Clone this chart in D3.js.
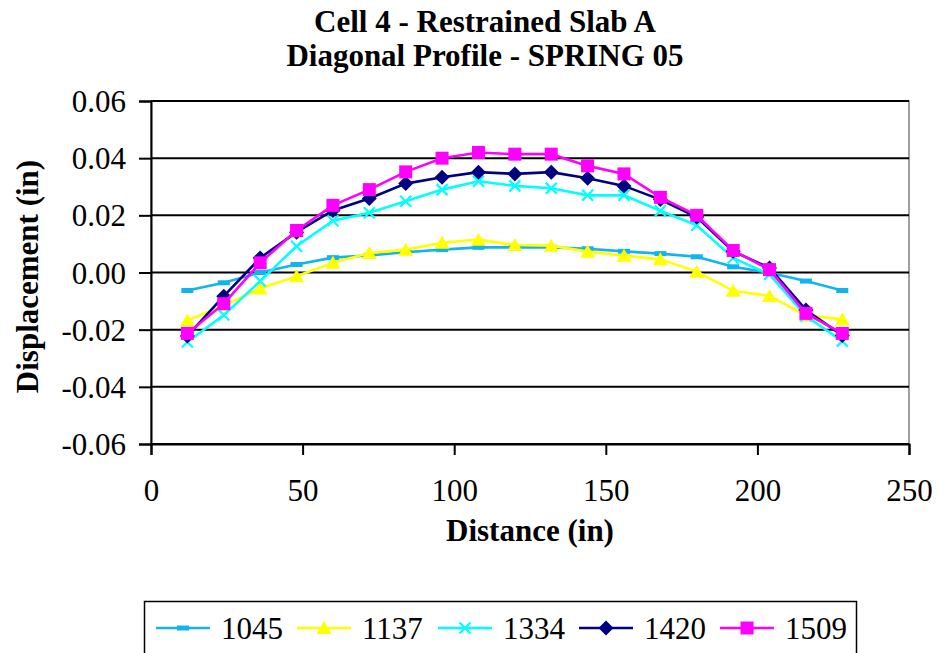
<!DOCTYPE html>
<html>
<head>
<meta charset="utf-8">
<script src="https://cdn.jsdelivr.net/npm/d3@7"></script>
<style>
  html, body { margin: 0; padding: 0; background: #fff; }
  svg { display: block; }
  text { font-family: "Liberation Serif", "Times New Roman", serif; fill: #000; }
</style>
</head>
<body>
<svg id="chart" width="938" height="653"></svg>
<script>
// Measurement positions along the diagonal (in)
const distance = [12, 24, 36, 48, 60, 72, 84, 96, 108, 120, 132, 144, 156, 168, 180, 192, 204, 216, 228];

// Displacement readings (in) for each survey time
const s1045 = [-0.0063, -0.0036, 0.0000, 0.0028, 0.0052, 0.0060, 0.0071, 0.0080, 0.0088, 0.0088, 0.0088, 0.0083, 0.0074, 0.0066, 0.0055, 0.0020, -0.0001, -0.0030, -0.0063];
const s1137 = [-0.0168, -0.0115, -0.0056, -0.0013, 0.0034, 0.0068, 0.0080, 0.0104, 0.0115, 0.0096, 0.0094, 0.0073, 0.0059, 0.0046, 0.0003, -0.0064, -0.0082, -0.0150, -0.0164];
const s1334 = [-0.0243, -0.0149, -0.0030, 0.0092, 0.0181, 0.0209, 0.0249, 0.0290, 0.0319, 0.0303, 0.0295, 0.0270, 0.0270, 0.0216, 0.0165, 0.0051, -0.0007, -0.0152, -0.0240];
const s1420 = [-0.0222, -0.0083, 0.0051, 0.0141, 0.0217, 0.0259, 0.0311, 0.0333, 0.0351, 0.0345, 0.0351, 0.0330, 0.0303, 0.0255, 0.0194, 0.0074, 0.0016, -0.0131, -0.0220];
const s1509 = [-0.0213, -0.0109, 0.0034, 0.0147, 0.0235, 0.0290, 0.0352, 0.0400, 0.0420, 0.0414, 0.0414, 0.0373, 0.0345, 0.0263, 0.0200, 0.0077, 0.0010, -0.0143, -0.0213];

const seriesNames = ["1045", "1137", "1334", "1420", "1509"];
const seriesValues = [s1045, s1137, s1334, s1420, s1509];
const seriesColors = ["#13b4ee", "#ffff00", "#00ffff", "#000080", "#ff00ff"];
const seriesMarkers = ["dash", "triangle", "cross", "diamond", "square"];

const xTicks = [0, 50, 100, 150, 200, 250];
const yTicks = [-0.06, -0.04, -0.02, 0.00, 0.02, 0.04, 0.06];

const titleLines = ["Cell 4 - Restrained Slab A", "Diagonal Profile - SPRING 05"];
const xTitle = "Distance (in)";
const yTitle = "Displacement (in)";

const svg = d3.select("#chart");
const plot = { left: 151, right: 909, top: 101, bottom: 444 };

const x = d3.scaleLinear().domain([0, 250]).range([plot.left, plot.right]);
const y = d3.scaleLinear().domain([-0.06, 0.06]).range([plot.bottom, plot.top]);

// Plot area frame
svg.append("rect")
  .attr("x", plot.left).attr("y", plot.top)
  .attr("width", plot.right - plot.left).attr("height", plot.bottom - plot.top)
  .attr("fill", "#fff").attr("stroke", "#808080").attr("stroke-width", 1.5);

// Horizontal gridlines
svg.append("g").selectAll("line").data(yTicks).join("line")
  .attr("x1", plot.left).attr("x2", plot.right)
  .attr("y1", d => y(d)).attr("y2", d => y(d))
  .attr("stroke", "#000").attr("stroke-width", 2);

// Axes
const yAxis = svg.append("g")
  .attr("transform", `translate(${plot.left},0)`)
  .call(d3.axisLeft(y).tickValues(yTicks).tickSize(12).tickPadding(13)
    .tickFormat(d => d.toFixed(2)));
const xAxis = svg.append("g")
  .attr("transform", `translate(0,${plot.bottom})`)
  .call(d3.axisBottom(x).tickValues(xTicks).tickSize(11).tickPadding(24)
    .tickFormat(d3.format("d")));

[yAxis, xAxis].forEach(g => {
  g.select(".domain").attr("stroke", "#000").attr("stroke-width", 2);
  g.selectAll(".tick line").attr("stroke", "#000").attr("stroke-width", 2);
  g.selectAll(".tick text")
    .attr("font-family", "'Liberation Serif', 'Times New Roman', serif")
    .attr("font-size", 31).attr("fill", "#000");
});
yAxis.selectAll(".tick text").attr("dy", "0.34em");

// Marker shapes
function drawMarker(g, type, color) {
  if (type === "dash") {
    g.append("rect").attr("x", -6).attr("y", -2.5).attr("width", 12).attr("height", 5).attr("fill", color);
  } else if (type === "triangle") {
    g.append("path").attr("d", "M0,-7 L7.5,6 L-7.5,6 Z").attr("fill", color);
  } else if (type === "cross") {
    g.append("path").attr("d", "M-5.5,-5.5 L5.5,5.5 M-5.5,5.5 L5.5,-5.5")
      .attr("stroke", color).attr("stroke-width", 2.2).attr("fill", "none");
  } else if (type === "diamond") {
    g.append("path").attr("d", "M0,-7.5 L7.5,0 L0,7.5 L-7.5,0 Z").attr("fill", color);
  } else if (type === "square") {
    g.append("rect").attr("x", -6.5).attr("y", -6.5).attr("width", 13).attr("height", 13).attr("fill", color);
  }
}

const line = d3.line().x(d => x(d[0])).y(d => y(d[1]));

seriesValues.forEach((vals, i) => {
  const pts = distance.map((d, j) => [d, vals[j]]);
  const g = svg.append("g").attr("class", "series");
  g.append("path").datum(pts).attr("d", line)
    .attr("fill", "none").attr("stroke", seriesColors[i]).attr("stroke-width", 2.6);
  pts.forEach(p => {
    const m = g.append("g").attr("transform", `translate(${x(p[0])},${y(p[1])})`);
    drawMarker(m, seriesMarkers[i], seriesColors[i]);
  });
});

// Titles (two separate lines)
titleLines.forEach((t, i) => {
  svg.append("text").attr("x", 485).attr("y", 32 + i * 34)
    .attr("text-anchor", "middle").attr("font-size", 31).attr("font-weight", "bold")
    .text(t);
});

svg.append("text").attr("x", (plot.left + plot.right) / 2).attr("y", 541)
  .attr("text-anchor", "middle").attr("font-size", 31).attr("font-weight", "bold")
  .text(xTitle);

svg.append("text")
  .attr("transform", `translate(38,${(plot.top + plot.bottom) / 2 + 4}) rotate(-90)`)
  .attr("text-anchor", "middle").attr("font-size", 31).attr("font-weight", "bold")
  .text(yTitle);

// Legend
const legend = svg.append("g");
legend.append("rect").attr("x", 144.5).attr("y", 601.5).attr("width", 712).attr("height", 60)
  .attr("fill", "#fff").attr("stroke", "#000").attr("stroke-width", 1.5);
const legendX = [156, 297, 438, 579, 720];
seriesNames.forEach((name, i) => {
  const lx = legendX[i];
  legend.append("line").attr("x1", lx).attr("x2", lx + 54).attr("y1", 628).attr("y2", 628)
    .attr("stroke", seriesColors[i]).attr("stroke-width", 2.6);
  const m = legend.append("g").attr("transform", `translate(${lx + 27},628)`);
  drawMarker(m, seriesMarkers[i], seriesColors[i]);
  legend.append("text").attr("x", lx + 65).attr("y", 639)
    .attr("font-size", 31).text(name);
});
</script>
</body>
</html>
